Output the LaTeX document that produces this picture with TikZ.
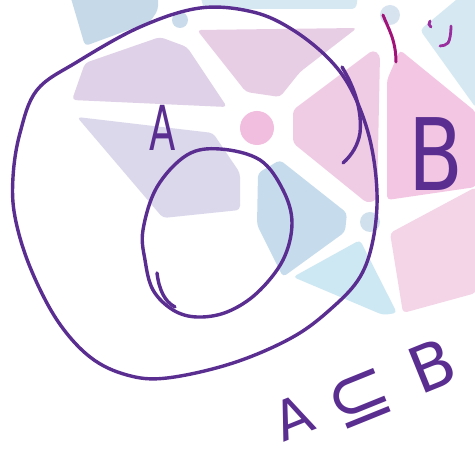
\documentclass[tikz,border=0pt]{standalone}
\usepackage{fontspec}
\setmainfont{DejaVu Sans}
\begin{document}
\begin{tikzpicture}[x=1pt,y=-1pt,
  pen/.style={draw=penpurple,line width=3.4pt,line cap=round,line join=round},
  mpen/.style={draw=penmagenta,line width=3pt,line cap=round},
  vpen/.style={draw=penviolet,line width=2.8pt,line cap=round},
  tile/.style={rounded corners=4pt,draw=none,fill opacity=0.85},
  hand/.style={text=penpurple,inner sep=0pt,font=\fontsize{#1}{#1}\selectfont}]
\definecolor{penpurple}{HTML}{5A2D91}
\definecolor{penmagenta}{HTML}{A2137A}
\definecolor{penviolet}{HTML}{9A2E9E}
\definecolor{tblue}{HTML}{BDD3E6}
\definecolor{tcyan}{HTML}{CFE6F1}
\definecolor{tpurple}{HTML}{DAC9E3}
\definecolor{tmauve}{HTML}{E4C6E1}
\definecolor{tlav}{HTML}{D6D2E8}
\definecolor{tpink}{HTML}{EEC2E0}
\definecolor{tpinkb}{HTML}{F2BEDF}
\definecolor{tpinkc}{HTML}{F3CDE3}
\definecolor{tmid}{HTML}{BDD7EA}
\definecolor{tlcyan}{HTML}{C6E4F1}
\useasboundingbox (0,0) rectangle (475,454);
\fill[white] (0,0) rectangle (475,454);
% background tiles
\fill[tile,tblue] (70,-5) -- (158,-5) -- (158,10) -- (150,22) -- (85,46) -- cycle;
\fill[tile,tcyan] (200,-5) -- (358,-5) -- (356,9) -- (204,9) -- cycle;
\fill[tile,tpurple] (72,100) -- (85,63) -- (160,37) -- (187,47) -- (227,107) -- cycle;
\fill[tile,tmauve] (197,30) -- (357,28) -- (300,72) -- (280,97) -- (246,92) -- cycle;
\fill[tile,tlav] (77,117) -- (213,133) -- (240,173) -- (240,210) -- (163,218) -- cycle;
\fill[tile,tpink] (293,110) -- (373,50) -- (380,55) -- (377,200) -- (367,203) -- (293,143) -- cycle;
\fill[tile,tpinkb] (387,80) -- (400,50) -- (476,112) -- (476,187) -- (387,200) -- cycle;
\fill[tile,tcyan] (420,30) -- (462,-5) -- (476,-5) -- (476,108) -- cycle;
\fill[tile,tmid] (258,173) -- (280,160) -- (347,213) -- (345,232) -- (283,277) -- (257,225) -- cycle;
\fill[tile,tlcyan] (293,277) -- (360,240) -- (397,313) -- (383,315) -- cycle;
\fill[tile,tpinkc] (390,233) -- (476,187) -- (476,293) -- (403,313) -- cycle;
\fill[tpinkb] (257,128) circle (17);
\fill[tblue!80] (180,20) circle (8);
\fill[tblue!60] (390,15) circle (10);
\fill[tblue!70] (370,222) circle (10);
% outer set B
\draw[pen] plot[smooth cycle,tension=0.6] coordinates {(13,177) (20,133) (37,90) (77,62) (140,27) (200,8) (253,12) (293,30) (330,60) (353,93) (370,140) (377,193) (373,240) (360,277) (333,307) (293,337) (233,363) (167,378) (127,375) (90,357) (57,320) (30,267) (15,217)};
% inner set A
\draw[pen] plot[smooth cycle,tension=0.6] coordinates {(143,230) (157,187) (187,155) (220,149) (260,160) (283,190) (292,223) (283,260) (257,293) (227,312) (197,317) (173,310) (153,290) (145,260)};
% extra strokes
\draw[pen] (157,273) .. controls (159,290) and (165,302) .. (175,307);
\draw[pen] (342,67) .. controls (356,90) and (362,112) .. (360,133) .. controls (358,145) and (352,155) .. (343,163);
\draw[mpen] (383,15) .. controls (388,28) and (396,40) .. (396,62);
\draw[vpen] (430,21) .. controls (428,23) and (429,26) .. (431,27);
\draw[vpen] (451,26) .. controls (451,33) and (450,40) .. (448,43) .. controls (446,45) and (443,46) .. (440,46);
% labels
\node[hand=62,xscale=0.62] (la) at (163,128) {A};
\node[hand=100,xscale=0.8] (lb) at (436,154) {B};
\node[hand=54,rotate=22] (la2) at (293,417) {A};
\node[hand=76,rotate=22] (sub) at (360,399) {⊆};
\node[hand=64,rotate=22] (lb2) at (432,366) {B};
\end{tikzpicture}
\end{document}
